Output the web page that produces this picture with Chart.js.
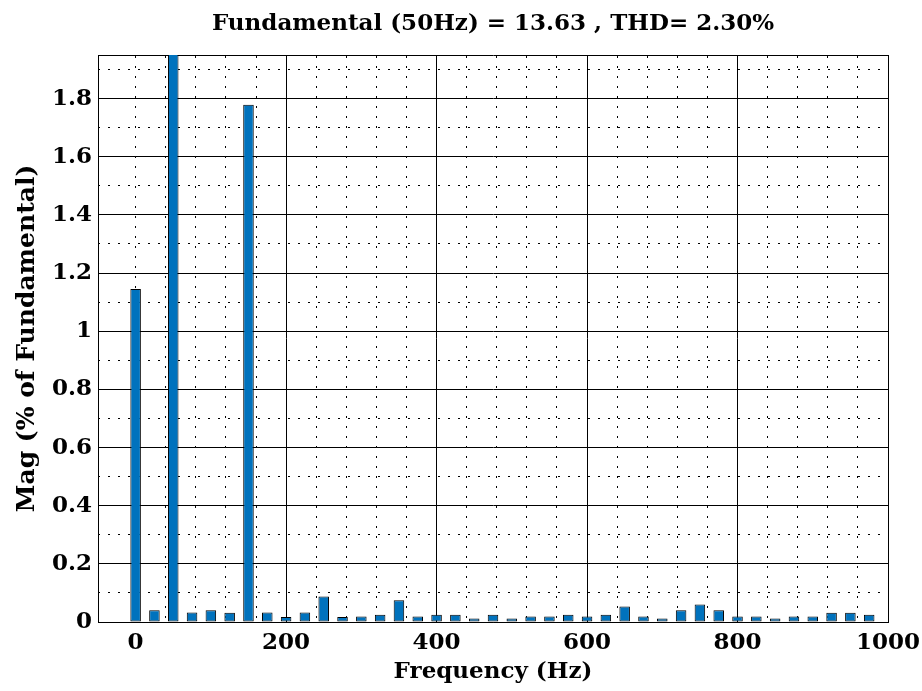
<!DOCTYPE html>
<html>
<head>
<meta charset="utf-8">
<title>FFT Analysis</title>
<script src="https://cdn.jsdelivr.net/npm/chart.js@4.4.1/dist/chart.umd.min.js"></script>
<style>
  body { margin: 0; background: #fff; }
  #wrap { width: 922px; height: 691px; }
</style>
</head>
<body>
<div id="wrap"><canvas id="myChart"></canvas></div>
<script>
// harmonic frequencies (Hz)
const freqs = [0, 25, 50, 75, 100, 125, 150, 175, 200, 225, 250, 275, 300, 325, 350, 375,
  400, 425, 450, 475, 500, 525, 550, 575, 600, 625, 650, 675, 700, 725, 750, 775,
  800, 825, 850, 875, 900, 925, 950, 975];

// magnitude, % of fundamental (50 Hz = 100, clipped by the axis)
const mags = [1.145, 0.040, 100, 0.033, 0.040, 0.032, 1.779, 0.033, 0.017, 0.033, 0.088, 0.017,
  0.019, 0.025, 0.075, 0.019, 0.025, 0.025, 0.012, 0.025, 0.012, 0.019, 0.019, 0.025,
  0.019, 0.025, 0.053, 0.019, 0.012, 0.040, 0.060, 0.040, 0.019, 0.019, 0.012, 0.019,
  0.019, 0.032, 0.032, 0.025];

const xTicks = [0, 200, 400, 600, 800, 1000];
const yTicks = [0, 0.2, 0.4, 0.6, 0.8, 1, 1.2, 1.4, 1.6, 1.8];

const titleText = "Fundamental (50Hz) = 13.63 , THD= 2.30%";
const xTitle = "Frequency (Hz)";
const yTitle = "Mag (% of Fundamental)";

const FONT = "'DejaVu Serif', serif";

const ctx = document.getElementById("myChart").getContext("2d");

const chart = new Chart(ctx, {
  type: "bar",
  data: {
    datasets: [
      {
        data: freqs.map((f, i) => ({ x: f, y: mags[i] })),
        backgroundColor: "#0072BD",
        borderColor: "#000",
        borderWidth: 1,
        borderSkipped: false,
        categoryPercentage: 1,
        barPercentage: 0.56,
      },
    ],
  },
  options: {
    responsive: true,
    maintainAspectRatio: false,
    animation: false,
    layout: { padding: { top: 0, right: 34, bottom: 0, left: 0 } },
    plugins: {
      legend: { display: false },
      tooltip: { enabled: false },
      title: {
        display: true,
        fullSize: false, // center over the plot box, not the canvas
        text: titleText,
        color: "#000",
        font: { family: FONT, size: 23, weight: "bold", lineHeight: 1.2 },
        padding: { top: 10, bottom: 17.4 },
      },
    },
    scales: {
      x: {
        type: "linear",
        offset: false,
        min: -50,
        max: 1000,
        afterBuildTicks: (s) => { s.ticks = xTicks.map((v) => ({ value: v })); },
        afterFit: (s) => {
          s.height = 69;
          // let "1000" hang past the box instead of shrinking it
          s.paddingRight = 0;
          s.paddingLeft = 0;
        },
        grid: {
          drawTicks: false,
          offset: false,
          // the 0 Hz line is only dotted in the original
          color: (c) => (c.tick && c.tick.value === 0 ? "rgba(0,0,0,0)" : "#000"),
          lineWidth: 1,
        },
        border: { color: "#000", width: 1 },
        ticks: {
          color: "#000",
          padding: 7,
          maxRotation: 0,
          callback: (v) => String(v),
          font: { family: FONT, size: 23, weight: "bold" },
        },
        title: {
          display: true,
          text: xTitle,
          color: "#000",
          font: { family: FONT, size: 23, weight: "bold", lineHeight: 1.2 },
          padding: { top: 0, bottom: 5 },
        },
      },
      y: {
        min: 0,
        max: 1.95,
        afterBuildTicks: (s) => { s.ticks = yTicks.map((v) => ({ value: v })); },
        afterFit: (s) => { s.width = 98; },
        grid: { drawTicks: false, color: "#000", lineWidth: 1 },
        border: { color: "#000", width: 1 },
        ticks: {
          color: "#000",
          padding: 6,
          callback: (v) => String(v),
          font: { family: FONT, size: 23, weight: "bold" },
        },
        title: {
          display: true,
          text: yTitle,
          color: "#000",
          font: { family: FONT, size: 25, weight: "bold", lineHeight: 1.2 },
          padding: { top: 12, bottom: 0 },
        },
      },
      // dotted minor grid, also gives the top / right box edges
      xMinor: {
        type: "linear",
        position: "top",
        offset: false,
        min: -50,
        max: 1000,
        ticks: { display: false, stepSize: 40 },
        afterFit: (s) => { s.height = 0; },
        grid: { drawTicks: false, offset: false, color: "#000", lineWidth: 1 },
        border: { color: "#000", width: 1, dash: [2, 8] },
      },
      yMinor: {
        position: "right",
        min: 0,
        max: 1.95,
        ticks: { display: false, stepSize: 0.1 },
        afterFit: (s) => { s.width = 0; },
        grid: { drawTicks: false, color: "#000", lineWidth: 1 },
        border: { color: "#000", width: 1, dash: [2, 8] },
      },
    },
  },
  plugins: [
    {
      id: "whiteBackground",
      beforeDraw: (c) => {
        const g = c.ctx;
        g.save();
        g.fillStyle = "white";
        g.fillRect(0, 0, c.width, c.height);
        g.restore();
      },
    },
  ],
});
</script>
</body>
</html>
